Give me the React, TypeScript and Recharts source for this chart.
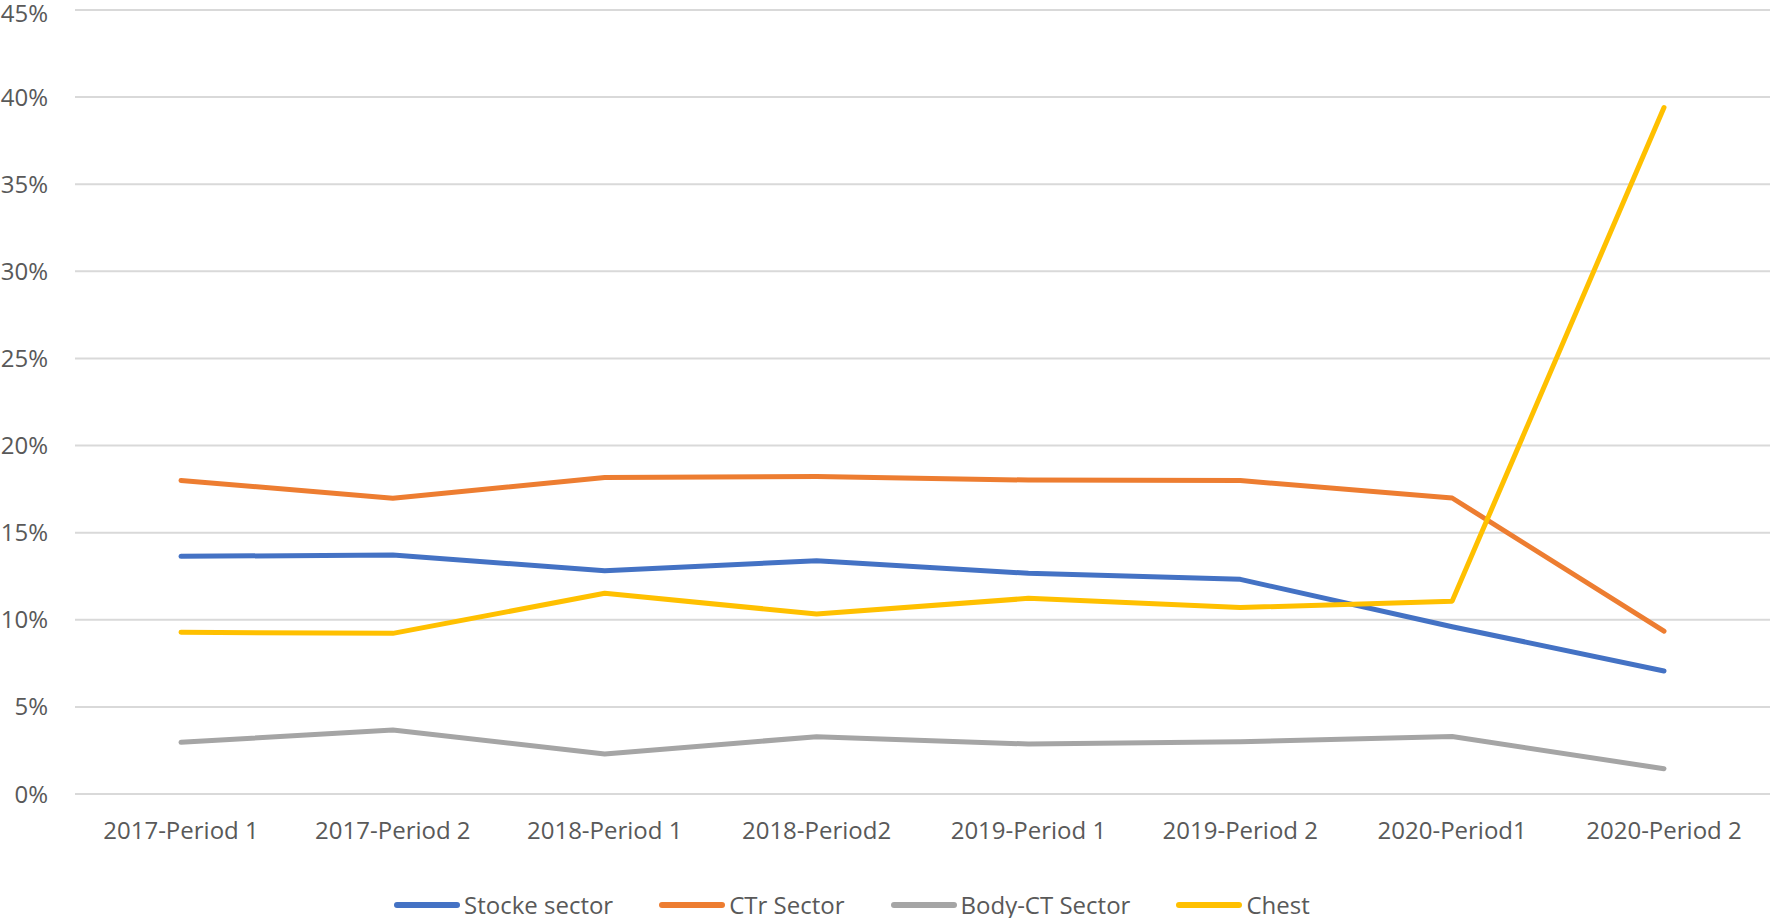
import { LineChart, Line, XAxis, YAxis, CartesianGrid, Legend } from "recharts";

const periods = [
  "2017-Period 1",
  "2017-Period 2",
  "2018-Period 1",
  "2018-Period2",
  "2019-Period 1",
  "2019-Period 2",
  "2020-Period1",
  "2020-Period 2",
];

const stockeSector = [13.64, 13.72, 12.82, 13.39, 12.67, 12.32, 9.6, 7.06];
const ctrSector = [18.0, 16.98, 18.16, 18.22, 18.02, 17.99, 16.99, 9.35];
const bodyCtSector = [2.97, 3.67, 2.3, 3.29, 2.87, 3.0, 3.3, 1.45];
const chest = [9.28, 9.22, 11.52, 10.33, 11.23, 10.7, 11.07, 39.4];

const yTicks = [0, 5, 10, 15, 20, 25, 30, 35, 40, 45];

const SERIES = [
  { key: "stocke", name: "Stocke sector", color: "#4472C4" },
  { key: "ctr", name: "CTr Sector", color: "#ED7D31" },
  { key: "body", name: "Body-CT Sector", color: "#A5A5A5" },
  { key: "chest", name: "Chest", color: "#FFC000" },
];

const data = periods.map((p, i) => ({
  period: p,
  stocke: stockeSector[i],
  ctr: ctrSector[i],
  body: bodyCtSector[i],
  chest: chest[i],
}));

const FONT = "'Open Sans', sans-serif";
const TEXT = "#595959";

function ChartLegend() {
  return (
    <div style={{ display: "flex", alignItems: "center", fontFamily: FONT, fontSize: 24, color: TEXT, whiteSpace: "nowrap" }}>
      {SERIES.map((s, i) => (
        <div
          key={s.key}
          style={{ display: "flex", alignItems: "center", marginRight: i < SERIES.length - 1 ? 46 : 0 }}
        >
          <div
            style={{ width: 66, height: 6, borderRadius: 3, backgroundColor: s.color, marginRight: 4 }}
          />
          <span>{s.name}</span>
        </div>
      ))}
    </div>
  );
}

export default function App() {
  return (
    <div style={{ position: "absolute", left: 0, top: 0, background: "#fff" }}>
      <LineChart width={1770} height={918} data={data} margin={{ top: 10, right: 0, bottom: 0, left: 0 }}>
        <CartesianGrid vertical={false} stroke="#D9D9D9" strokeWidth={2} />
        <XAxis
          dataKey="period"
          height={124}
          axisLine={false}
          tickLine={false}
          tickMargin={22}
          interval={0}
          padding={{ left: 106, right: 106 }}
          tick={{ fill: TEXT, fontSize: 24, fontFamily: FONT }}
        />
        <YAxis
          width={75}
          domain={[0, 45]}
          ticks={yTicks}
          axisLine={false}
          tickLine={false}
          tickMargin={21}
          tickFormatter={(v) => `${v}%`}
          tick={{ fill: TEXT, fontSize: 24, fontFamily: FONT }}
        />
        <Legend
          layout="horizontal"
          verticalAlign="middle"
          align="center"
          content={() => <ChartLegend />}
          wrapperStyle={{ left: 394, top: 888, width: "auto" }}
        />
        {SERIES.map((s) => (
          <Line
            key={s.key}
            type="linear"
            dataKey={s.key}
            name={s.name}
            stroke={s.color}
            strokeWidth={5}
            strokeLinecap="round"
            strokeLinejoin="round"
            dot={false}
            activeDot={false}
            isAnimationActive={false}
          />
        ))}
      </LineChart>
    </div>
  );
}
